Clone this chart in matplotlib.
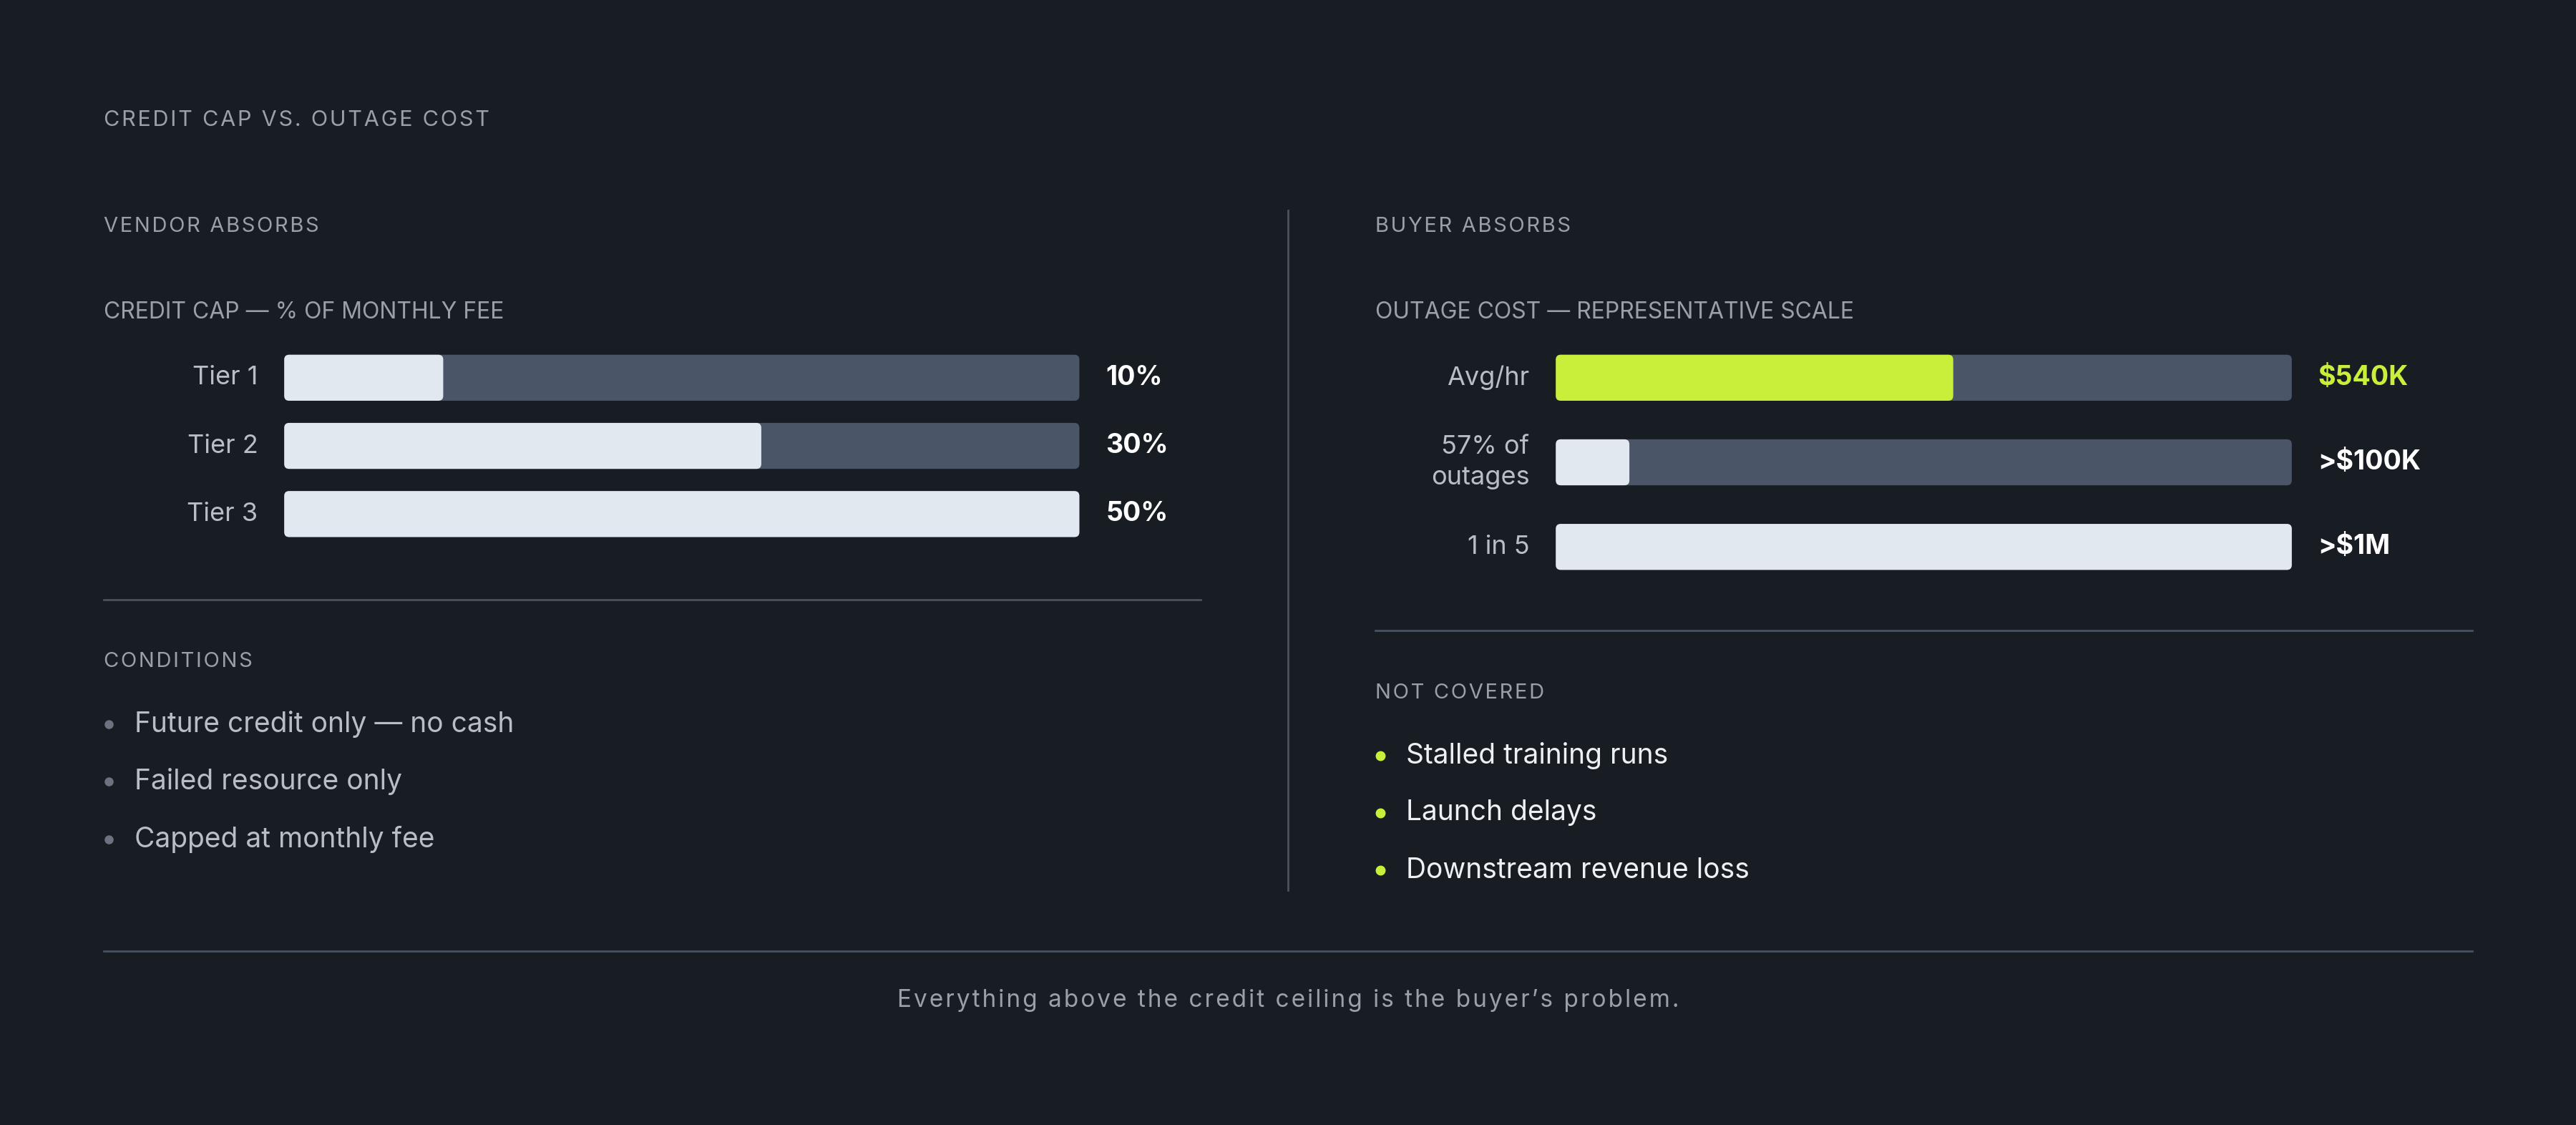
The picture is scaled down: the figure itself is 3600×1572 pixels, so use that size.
import matplotlib.pyplot as plt
from matplotlib.patches import FancyBboxPatch

plt.rcParams['font.family'] = ['Inter', 'DejaVu Sans']

# data
tier_labels = ["Tier 1", "Tier 2", "Tier 3"]
tier_values = [10, 30, 50]          # % of monthly fee
tier_max = 50
cost_labels = ["Avg/hr", "57% of\noutages", "1 in 5"]
cost_values = [540, 100, 1000]      # $K
cost_max = 1000
cost_texts = ["$540K", ">$100K", ">$1M"]
conditions = ["Future credit only — no cash", "Failed resource only", "Capped at monthly fee"]
not_covered = ["Stalled training runs", "Launch delays", "Downstream revenue loss"]

BG = "#181c23"
TRACK = "#4a5568"
FILL = "#e2e8f0"
LIME = "#c8f03a"
MUTED = "#9aa0a8"
LINE = "#4b5260"

W, H = 1568, 685
fig = plt.figure(figsize=(18, 7.86), dpi=200, facecolor=BG)
ax = fig.add_axes([0, 0, 1, 1])
ax.set_xlim(0, W)
ax.set_ylim(H, 0)
ax.axis("off")
ax.set_facecolor(BG)


def track(s):
    # rough letter spacing
    return "\u200a".join(s)


def rbar(x, y, w, h, color):
    ax.add_patch(FancyBboxPatch((x + 3, y - h / 2 + 3), max(w - 6, 0.1), h - 6,
                                boxstyle="round,pad=3", fc=color, ec="none"))


def heading(x, y, s, size=10.5, spaced=True):
    ax.text(x, y, track(s) if spaced else s, color=MUTED, fontsize=size, va="center", ha="left")


heading(63, 73, "CREDIT CAP VS. OUTAGE COST", 11)
heading(63, 138, "VENDOR ABSORBS")
heading(837, 138, "BUYER ABSORBS")
heading(63, 190, "CREDIT CAP — % OF MONTHLY FEE", 11.5, spaced=False)
heading(837, 190, "OUTAGE COST — REPRESENTATIVE SCALE", 11.5, spaced=False)

# left bars
x0, tw, bh = 173, 484, 28
for i, (lab, v) in enumerate(zip(tier_labels, tier_values)):
    y = 230 + i * 41.5
    rbar(x0, y, tw, bh, TRACK)
    rbar(x0, y, tw * v / tier_max, bh, FILL)
    ax.text(157, y, lab, color="#b8bec6", fontsize=13, ha="right", va="center")
    ax.text(673, y, f"{v}%", color="white", fontsize=13.5, ha="left", va="center", fontweight="bold")

# right bars
x1, tw1 = 947, 448
for i, (lab, v, t) in enumerate(zip(cost_labels, cost_values, cost_texts)):
    y = 230 + i * 51.5
    rbar(x1, y, tw1, bh, TRACK)
    rbar(x1, y, tw1 * v / cost_max, bh, LIME if i == 0 else FILL)
    ax.text(931, y, lab, color="#b8bec6", fontsize=13, ha="right", va="center",
            multialignment="right", linespacing=1.4)
    ax.text(1411, y, t, color=LIME if i == 0 else "white", fontsize=13.5,
            ha="left", va="center", fontweight="bold")

# dividers
ax.plot([63, 731], [365, 365], color=LINE, lw=1)
ax.plot([837, 1505], [384, 384], color=LINE, lw=1)
ax.plot([784, 784], [128, 542], color=LINE, lw=1)
ax.plot([63, 1505], [579, 579], color=LINE, lw=1)

heading(63, 403, "CONDITIONS")
for i, s in enumerate(conditions):
    y = 441 + i * 35
    ax.plot(66, y, "o", color="#6b7280", ms=3.5)
    ax.text(82, y, s, color="#b8bec6", fontsize=14, va="center")

heading(837, 422, "NOT COVERED")
for i, s in enumerate(not_covered):
    y = 460 + i * 35
    ax.plot(840, y, "o", color=LIME, ms=4)
    ax.text(856, y, s, color="#eef0f3", fontsize=14, va="center")

ax.text(784, 609, track("Everything above the credit ceiling is the buyer’s problem."),
        color=MUTED, fontsize=12, ha="center", va="center")

fig.savefig("out.png", dpi=200, facecolor=BG)
